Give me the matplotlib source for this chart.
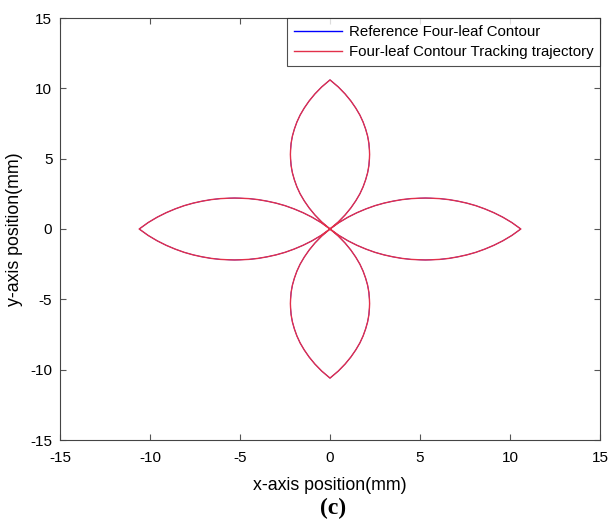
#!/usr/bin/env python3

import matplotlib

matplotlib.use("Agg")
import matplotlib.pyplot as plt
import numpy as np


# half-petal profile: distance along the petal axis (mm)
# and the half-width of the leaf at that distance (mm)
PROFILE_S = [0.0, 0.5, 1.0, 1.5, 2.0, 2.5, 3.0, 3.5, 4.0, 4.5, 5.0, 5.3,
             5.6, 6.1, 6.6, 7.1, 7.6, 8.1, 8.6, 9.1, 9.6, 10.1, 10.6]
PROFILE_W = [0.0, 0.46, 0.84, 1.16, 1.43, 1.66, 1.84, 1.98, 2.09, 2.16, 2.19, 2.20,
             2.19, 2.16, 2.09, 1.98, 1.84, 1.66, 1.43, 1.16, 0.84, 0.46, 0.0]

# petal directions (degrees): right, up, left, down
PETAL_ANGLES = [0, 90, 180, 270]

TICKS = [-15, -10, -5, 0, 5, 10, 15]


def contour_points():
    s = np.array(PROFILE_S)
    w = np.array(PROFILE_W)
    # one closed leaf: out along the upper edge, back along the lower edge
    leaf_s = np.concatenate([s, s[::-1]])
    leaf_w = np.concatenate([w, -w[::-1]])
    xs, ys = [], []
    for ang in PETAL_ANGLES:
        a = np.deg2rad(ang)
        xs.append(leaf_s * np.cos(a) - leaf_w * np.sin(a))
        ys.append(leaf_s * np.sin(a) + leaf_w * np.cos(a))
    return np.concatenate(xs), np.concatenate(ys)


def main() -> None:
    plt.rcParams["font.family"] = ["Liberation Sans", "DejaVu Sans"]
    plt.rcParams["axes.unicode_minus"] = False
    fig = plt.figure(figsize=(6.12, 5.28), dpi=100, facecolor="white")
    ax = fig.add_axes([60 / 612, 88 / 528, 540 / 612, 422 / 528])

    x, y = contour_points()
    ax.plot(x, y, color="#0000ff", linewidth=0.6, label="Reference Four-leaf Contour")
    ax.plot(x, y, color="#e2304a", linewidth=1.0, label="Four-leaf Contour Tracking trajectory")

    ax.set_xlim(-15, 15)
    ax.set_ylim(-15, 15)
    ax.set_xticks(TICKS)
    ax.set_yticks(TICKS)
    ax.tick_params(direction="in", top=True, right=True, labelsize=11, length=4,
                   color="#555555")
    ax.tick_params(axis="x", pad=8)
    ax.tick_params(axis="y", pad=5.5)
    for spine in ax.spines.values():
        spine.set_color("#444444")
        spine.set_linewidth(0.8)

    ax.set_xlabel("x-axis position(mm)", fontsize=12.8)
    ax.set_ylabel("y-axis position(mm)", fontsize=12.8)
    ax.xaxis.label.set_va("center")
    ax.yaxis.label.set_va("center")
    ax.xaxis.set_label_coords(0.5, -45 / 422)
    ax.yaxis.set_label_coords(-45 / 540, 0.5)

    leg = ax.legend(loc="upper right", fontsize=10.8, frameon=True, fancybox=False,
                    borderaxespad=0.0, handlelength=3.2, borderpad=0.45,
                    labelspacing=0.4, handletextpad=0.45)
    leg.get_frame().set_edgecolor("#222222")
    leg.get_frame().set_linewidth(0.8)
    for handle in leg.get_lines():
        handle.set_linewidth(1.0)

    fig.text(0.545, (528 - 508) / 528, "(c)", ha="center", va="center", fontsize=17,
             fontweight="bold", family="Liberation Serif")

    fig.savefig("out.png", dpi=100)
    plt.close(fig)


if __name__ == "__main__":
    main()
